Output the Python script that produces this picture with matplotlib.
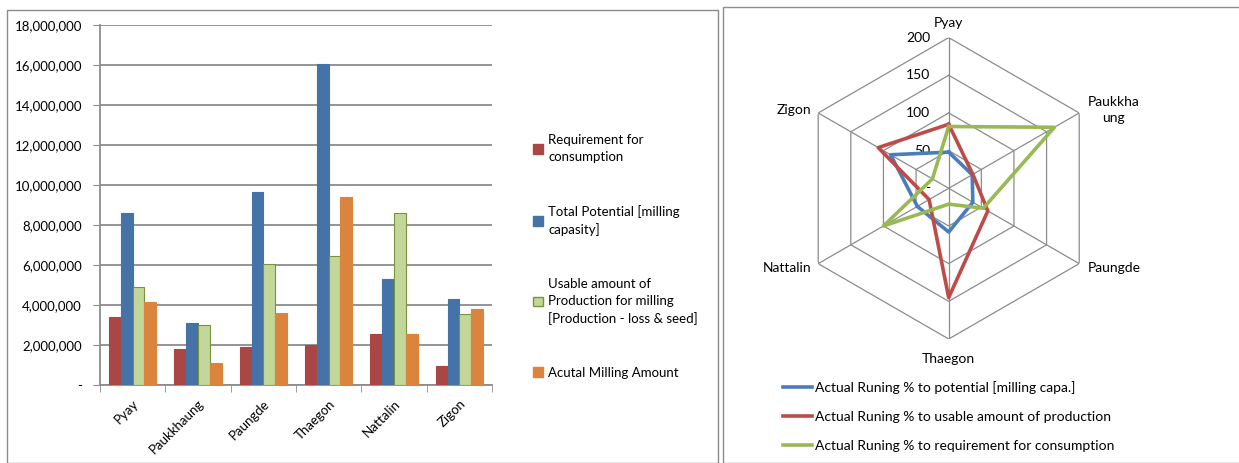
import numpy as np
import matplotlib.pyplot as plt
from matplotlib.patches import Rectangle, Patch
from matplotlib.ticker import FuncFormatter

plt.rcParams['font.family'] = ['Lato', 'DejaVu Sans']

towns = ["Pyay", "Paukkhaung", "Paungde", "Thaegon", "Nattalin", "Zigon"]

requirement = [3380000, 1820000, 1920000, 1980000, 2530000, 950000]
potential = [8580000, 3120000, 9650000, 16050000, 5280000, 4300000]
usable = [4880000, 3000000, 6030000, 6450000, 8580000, 3530000]
actual = [4130000, 1120000, 3600000, 9380000, 2530000, 3820000]

bar_names = ["Requirement for\nconsumption",
             "Total Potential [milling\ncapasity]",
             "Usable amount of\nProduction for milling\n[Production - loss & seed]",
             "Acutal Milling Amount"]

# running percentages for the radar
pct_potential = [48, 36, 37, 58, 48, 89]
pct_usable = [85, 37, 60, 145, 30, 108]
pct_requirement = [82, 162, 53, 21, 100, 25]

radar_names = ["Actual Runing % to potential [milling capa.]",
               "Actual Runing % to usable amount of production",
               "Actual Runing % to requirement for consumption"]
radar_ticks = [0, 50, 100, 150, 200]
radar_tick_labels = ["-", "50", "100", "150", "200"]
radar_cat_labels = ["Pyay", "Paukkha\nung", "Paungde", "Thaegon", "Nattalin", "Zigon"]

W, H = 1239, 463
fig = plt.figure(figsize=(W / 100, H / 100), dpi=100)

# chart area frames
fig.patches.append(Rectangle((6.5 / W, 0), (717.5 - 6.5) / W, 1 - 9.5 / H,
                             transform=fig.transFigure, fill=False,
                             edgecolor="#8c8c8c", lw=1))
fig.patches.append(Rectangle((722.5 / W, 0), 1.0, 1 - 7 / H,
                             transform=fig.transFigure, fill=False,
                             edgecolor="#8c8c8c", lw=1))

# ---- clustered bars ----
ax = fig.add_axes([100 / W, (H - 385) / H, 392 / W, 360 / H])
x = np.arange(len(towns))
w = 0.18
face = ["#aa4643", "#4572a7", "#c4d79b", "#db843d"]
edge = ["#aa4643", "#4572a7", "#77933c", "#db843d"]
series = [requirement, potential, usable, actual]
for i, vals in enumerate(series):
    ax.bar(x + (i - 1.5) * w, vals, w, color=face[i], edgecolor=edge[i],
           linewidth=0.8, label=bar_names[i], zorder=3)

ax.set_xlim(-0.5, len(towns) - 0.5)
ax.set_ylim(0, 18000000)
ax.set_yticks(np.arange(0, 18000001, 2000000))
ax.yaxis.set_major_formatter(FuncFormatter(lambda v, p: "-" if v == 0 else f"{v:,.0f}"))
ax.yaxis.grid(True, color="#8c8c8c", lw=1.3, zorder=0)
ax.set_xticks(x)
ax.set_xticklabels(towns, rotation=45, ha="right", rotation_mode="anchor", fontsize=9.5)
ax.set_xticks(np.arange(-0.5, len(towns)), minor=True)
ax.tick_params(axis="x", which="major", length=0, pad=9)
ax.tick_params(axis="x", which="minor", length=5, color="#8c8c8c")
ax.tick_params(axis="y", length=5, color="#8c8c8c", labelsize=9.5, pad=8)
for s in ["top", "right"]:
    ax.spines[s].set_visible(False)
for s in ["left", "bottom"]:
    ax.spines[s].set_color("#8c8c8c")
    ax.spines[s].set_linewidth(1.3)

handles = [Patch(facecolor=face[i], edgecolor=edge[i], label=bar_names[i]) for i in range(4)]
leg = ax.legend(handles=handles, loc="upper left", bbox_to_anchor=(533 / W, 1 - 134 / H),
                bbox_transform=fig.transFigure, frameon=False, fontsize=9.5,
                handlelength=0.75, handleheight=0.75, handletextpad=0.4,
                labelspacing=3.15, borderaxespad=0, borderpad=0)
for t in leg.get_texts():
    t.set_linespacing(1.5)

# ---- radar ----
cx, cy, R = 948.7, 188.3, 150.7
rax = fig.add_axes([(cx - R) / W, (H - cy - R) / H, 2 * R / W, 2 * R / H], projection="polar")
rax.set_theta_zero_location("N")
rax.set_theta_direction(-1)
rax.set_ylim(0, 200)
rax.grid(False)
rax.spines["polar"].set_visible(False)
rax.set_xticks([])
rax.set_yticks([])
rax.patch.set_alpha(0)

angles = np.linspace(0, 2 * np.pi, len(towns), endpoint=False)
ring = np.append(angles, angles[0])
for r in radar_ticks[1:]:
    rax.plot(ring, [r] * len(ring), color="#8c8c8c", lw=0.9, zorder=1)
for a in angles:
    rax.plot([a, a], [0, 200], color="#8c8c8c", lw=0.9, zorder=1)

for r, lab in zip(radar_ticks, radar_tick_labels):
    rax.annotate(lab, (0, r), xytext=(-13.5, 0), textcoords="offset points",
                 ha="right", va="center", fontsize=10, annotation_clip=False)

offsets = [(0, 6, "center", "bottom"), (6, 2, "left", "center"), (6, -3, "left", "center"),
           (0, -10, "center", "top"), (-5, -3, "right", "center"), (-5, 2, "right", "center")]
for a, lab, (dx, dy, ha, va) in zip(angles, radar_cat_labels, offsets):
    rax.annotate(lab, (a, 200), xytext=(dx, dy), textcoords="offset points",
                 ha=ha, va=va, fontsize=10, annotation_clip=False, linespacing=1.4,
                 multialignment="center")

line_cols = ["#4a7ebb", "#be4b48", "#98b954"]
for vals, col, name in zip([pct_potential, pct_usable, pct_requirement], line_cols, radar_names):
    rax.plot(ring, vals + vals[:1], color=col, lw=2.6, label=name, zorder=3)

rleg = rax.legend(loc="upper left", bbox_to_anchor=(783 / W, 1 - 381 / H),
                  bbox_transform=fig.transFigure, frameon=False, fontsize=10,
                  handlelength=2.1, handletextpad=0.2, labelspacing=1.22,
                  borderaxespad=0, borderpad=0)

fig.savefig("out.png", dpi=100)
